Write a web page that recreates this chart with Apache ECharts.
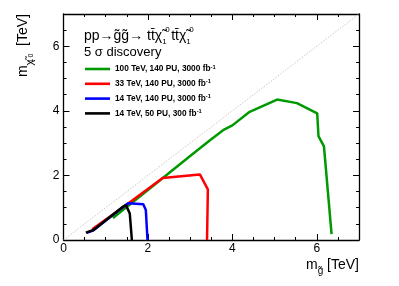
<!DOCTYPE html>
<html><head><meta charset="utf-8">
<script src="https://cdn.jsdelivr.net/npm/echarts@6/dist/echarts.min.js"></script>
<style>html,body{margin:0;padding:0;background:#fff}#c{width:399px;height:286px}</style>
</head><body><div id="c"></div>
<script>
const seriesNames = ['100 TeV, 140 PU, 3000 fb', '33 TeV, 140 PU, 3000 fb', '14 TeV, 140 PU, 3000 fb', '14 TeV, 50 PU, 300 fb'];
const seriesSup = ['-1', '-1', '-1', '-1'];
const seriesColors = ['#009900', '#ff0000', '#0000ff', '#000000'];
const green100 = [[1.17,0.68],[2.0,1.55],[3.0,2.6],[3.47,3.09],[3.78,3.40],[4.0,3.55],[4.41,3.97],[5.06,4.35],[5.53,4.24],[6.01,3.92],[6.04,3.22],[6.17,2.9],[6.35,0.18]];
const red33 = [[0.68,0.33],[1.5,1.1],[2.35,1.92],[3.23,2.03],[3.42,1.57],[3.40,0.0]];
const blue14 = [[0.55,0.22],[0.71,0.30],[1.40,1.01],[1.53,1.14],[1.89,1.11],[1.95,0.93],[1.99,0.0]];
const black14 = [[0.53,0.23],[0.71,0.31],[1.43,1.05],[1.48,1.08],[1.57,0.82],[1.62,0.0]];
const diagonal = [[0,0],[7,7]];
const xTicks = [0, 2, 4, 6];
const yTicks = [0, 2, 4, 6];

const FONT = 'Liberation Sans';
const chart = echarts.init(document.getElementById('c'), null, {renderer: 'canvas'});

function mkAxis(pos, major, showLabel, ticks) {
  return {
    type: 'value', min: 0, max: 7, interval: major ? 2 : 0.5, position: pos,
    axisLine: {show: major, onZero: false, lineStyle: {color: '#000', width: 1.3}},
    axisTick: {show: true, inside: true, length: major ? 6 : 3, lineStyle: {color: '#000', width: 1}},
    axisLabel: {show: showLabel, fontFamily: FONT, fontSize: 12, color: '#000', margin: pos === 'bottom' ? 3 : 4,
      formatter: v => ticks.indexOf(v) >= 0 ? String(v) : ''},
    splitLine: {show: false}
  };
}

const data = [green100, red33, blue14, black14];
const series = [{
  type: 'line', data: diagonal, showSymbol: false, silent: true,
  lineStyle: {color: '#c8c8c8', width: 1, type: [1.5, 1.5]}, xAxisIndex: 0, yAxisIndex: 0
}];
data.forEach((d, i) => series.push({
  name: seriesNames[i], type: 'line', data: d, showSymbol: false, symbol: 'none',
  lineStyle: {color: seriesColors[i], width: 2.5}, itemStyle: {color: seriesColors[i]},
  xAxisIndex: 0, yAxisIndex: 0
}));

const option = {
  animation: false,
  grid: {left: 63.5, right: 40, top: 14, bottom: 46, containLabel: false},
  xAxis: [mkAxis('bottom', true, true, xTicks), mkAxis('bottom', false, false, xTicks), mkAxis('top', true, false, xTicks), mkAxis('top', false, false, xTicks)],
  yAxis: [mkAxis('left', true, true, yTicks), mkAxis('left', false, false, yTicks), mkAxis('right', true, false, yTicks), mkAxis('right', false, false, yTicks)],
  legend: {
    data: seriesNames, orient: 'vertical', left: 85, top: 64, itemWidth: 25, itemHeight: 2.6, itemGap: 5.8,
    icon: 'rect', padding: 0,
    formatter: name => '{n|' + name + '}{s|' + seriesSup[seriesNames.indexOf(name)] + '}',
    textStyle: {fontFamily: FONT, color: '#000', padding: [0, 0, 0, 0],
      rich: {n: {fontFamily: FONT, fontSize: 8.3, fontWeight: 'bold', lineHeight: 10, color: '#000'},
             s: {fontFamily: FONT, fontSize: 5.8, fontWeight: 'bold', lineHeight: 6, verticalAlign: 'top', color: '#000'}}}
  },
  graphic: [
    {type: 'text', x: 84, y: 36, style: {
      text: '{t|pp→g̃g̃→ tt̄χ̃}{b|1}{p|0}{t|tt̄χ̃}{b|1}{p|0}', fontFamily: FONT, verticalAlign: 'middle', align: 'left',
      rich: {t: {fontFamily: FONT, fontSize: 14, lineHeight: 20, fill: '#000'},
             b: {fontFamily: FONT, fontSize: 8, lineHeight: 14, verticalAlign: 'bottom', width: 3, fill: '#000'},
             p: {fontFamily: FONT, fontSize: 8, lineHeight: 4, verticalAlign: 'top', width: 6, fill: '#000'}}}},
    {type: 'text', x: 84, y: 52, style: {text: '5 σ discovery', fontFamily: FONT, fontSize: 13, verticalAlign: 'middle', fill: '#000'}},
    {type: 'text', x: 359, y: 265, style: {
      text: '{a|m}{b|g̃}{a| [TeV]}', fontFamily: FONT, align: 'right', verticalAlign: 'middle',
      rich: {a: {fontFamily: FONT, fontSize: 14, lineHeight: 22, fill: '#000'},
             b: {fontFamily: FONT, fontSize: 10, lineHeight: 10, verticalAlign: 'bottom', fill: '#000'}}}},
    {type: 'text', x: 23, y: 14, rotation: Math.PI / 2, style: {
      text: '{a|m}{c|χ̃}{b|1}{p|0}{a|  [TeV]}', fontFamily: FONT, align: 'right', verticalAlign: 'middle',
      rich: {a: {fontFamily: FONT, fontSize: 14, lineHeight: 24, fill: '#000'},
             c: {fontFamily: FONT, fontSize: 11, lineHeight: 12, verticalAlign: 'bottom', fill: '#000'},
             b: {fontFamily: FONT, fontSize: 7, lineHeight: 4, verticalAlign: 'bottom', width: 1, fill: '#000'},
             p: {fontFamily: FONT, fontSize: 7, lineHeight: 20, verticalAlign: 'bottom', width: 5, fill: '#000'}}}}
  ],
  series: series
};
chart.setOption(option);
</script></body></html>
